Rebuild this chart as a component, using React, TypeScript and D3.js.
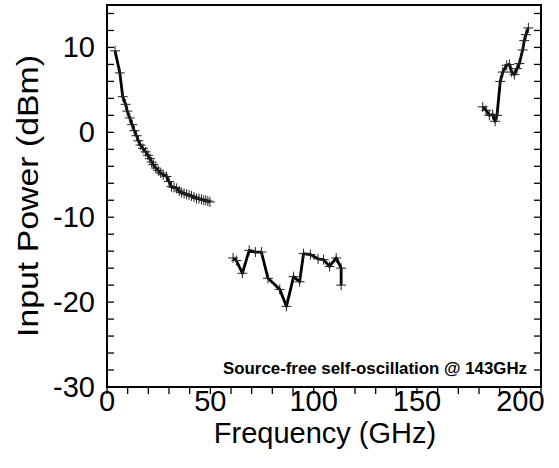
import React from "react";
import * as d3 from "d3";

const seg1Freq = [3.9, 6.2, 7.6, 9.0, 9.8, 11.0, 12.2, 13.2, 14.3, 15.2, 16.2, 17.4, 18.7, 19.8, 20.8, 21.6, 22.4, 23.6, 24.8, 26.0, 27.2, 28.8, 30.0, 31.2, 32.4, 33.7, 35.0, 36.1, 37.3, 38.5, 39.7, 40.9, 42.1, 43.3, 44.5, 45.7, 46.8, 47.8, 48.8, 49.8];
const seg1Power = [9.6, 7.0, 4.2, 3.3, 2.5, 1.7, 0.9, 0.2, -0.4, -1.0, -1.5, -1.9, -2.3, -2.7, -3.1, -3.5, -3.8, -4.2, -4.5, -4.8, -5.0, -5.2, -5.8, -6.4, -6.5, -6.6, -6.9, -7.1, -7.2, -7.3, -7.4, -7.5, -7.6, -7.8, -7.8, -7.9, -8.0, -8.0, -8.1, -8.2];

const seg2Freq = [61.0, 62.6, 65.5, 68.8, 71.8, 74.7, 77.9, 83.6, 86.8, 90.3, 93.2, 95.1, 98.4, 102.1, 104.8, 107.7, 110.9, 113.3, 113.3];
const seg2Power = [-14.8, -15.1, -16.6, -13.9, -14.1, -14.1, -17.2, -18.5, -20.5, -17.0, -17.6, -14.3, -14.4, -14.9, -15.0, -15.8, -14.8, -16.0, -18.0];

const seg3Freq = [181.8, 183.4, 185.0, 186.6, 187.8, 188.7, 190.3, 191.5, 193.4, 194.7, 195.8, 197.1, 198.4, 199.5, 201.1, 201.9, 202.7, 203.9];
const seg3Power = [3.0, 2.6, 2.0, 2.1, 1.3, 2.0, 6.0, 7.1, 7.9, 8.0, 7.1, 6.8, 7.5, 8.1, 9.7, 10.8, 11.5, 12.3];

const xMajorTicks = [0, 50, 100, 150, 200];
const yMajorTicks = [10, 0, -10, -20, -30];
const annotation = "Source-free self-oscillation @ 143GHz";
const xTitle = "Frequency (GHz)";
const yTitle = "Input Power (dBm)";

const W = 559;
const H = 468;
const L = 107, R = 541, T = 5, B = 387;

export default function App() {
  const x = d3.scaleLinear().domain([0, 210]).range([L, R]);
  const y = d3.scaleLinear().domain([-30, 15]).range([B, T]);
  const line = d3.line<[number, number]>().x(d => x(d[0])).y(d => y(d[1]));
  const segs = [
    seg1Freq.map((f, i) => [f, seg1Power[i]] as [number, number]),
    seg2Freq.map((f, i) => [f, seg2Power[i]] as [number, number]),
    seg3Freq.map((f, i) => [f, seg3Power[i]] as [number, number]),
  ];
  const xMinor = d3.range(0, 211, 10);
  const yMinor = d3.range(-30, 15.1, 2);
  const font = "'Liberation Sans', Arial, sans-serif";
  return (
    <svg width={W} height={H} style={{ position: "absolute", left: 0, top: 0, background: "#fff" }}>
      <rect x={0} y={0} width={W} height={H} fill="#fff" />
      {xMinor.map(v => (
        <line key={"xt" + v} x1={x(v)} x2={x(v)} y1={B} y2={B + 7} stroke="#000" strokeWidth={1.3} />
      ))}
      {yMinor.map(v => (
        <g key={"yt" + v}>
          <line x1={L} x2={L + 7} y1={y(v)} y2={y(v)} stroke="#000" strokeWidth={1.3} />
          <line x1={R} x2={R - 7} y1={y(v)} y2={y(v)} stroke="#000" strokeWidth={1.3} />
        </g>
      ))}
      <rect x={L} y={T} width={R - L} height={B - T} fill="none" stroke="#000" strokeWidth={2} />
      {segs.map((s, i) => (
        <path key={"l" + i} d={line(s) || ""} fill="none" stroke="#000" strokeWidth={2.8} strokeLinejoin="round" />
      ))}
      {segs.map((s, i) =>
        s.map((d, j) => (
          <g key={"m" + i + "-" + j} stroke="#222" strokeWidth={1}>
            <line x1={x(d[0]) - 5} x2={x(d[0]) + 5} y1={y(d[1])} y2={y(d[1])} />
            <line x1={x(d[0])} x2={x(d[0])} y1={y(d[1]) - 5} y2={y(d[1]) + 5} />
          </g>
        ))
      )}
      {xMajorTicks.map(v => (
        <text key={"xl" + v} x={x(v)} y={411} textAnchor="middle" fontFamily={font} fontSize={29} fill="#000">{v}</text>
      ))}
      {yMajorTicks.map(v => (
        <text key={"yl" + v} x={95} y={y(v) + 10} textAnchor="end" fontFamily={font} fontSize={29} fill="#000">{v}</text>
      ))}
      <text x={(L + R) / 2 + 1} y={443} textAnchor="middle" fontFamily={font} fontSize={29} fill="#000">{xTitle}</text>
      <text transform={`translate(38,${(T + B) / 2}) rotate(-90)`} textAnchor="middle" fontFamily={font} fontSize={30} textLength={282} lengthAdjust="spacingAndGlyphs" fill="#000">{yTitle}</text>
      <text x={527} y={374} textAnchor="end" fontFamily={font} fontSize={16} fontWeight="bold" textLength={304} lengthAdjust="spacingAndGlyphs" fill="#000">{annotation}</text>
    </svg>
  );
}
